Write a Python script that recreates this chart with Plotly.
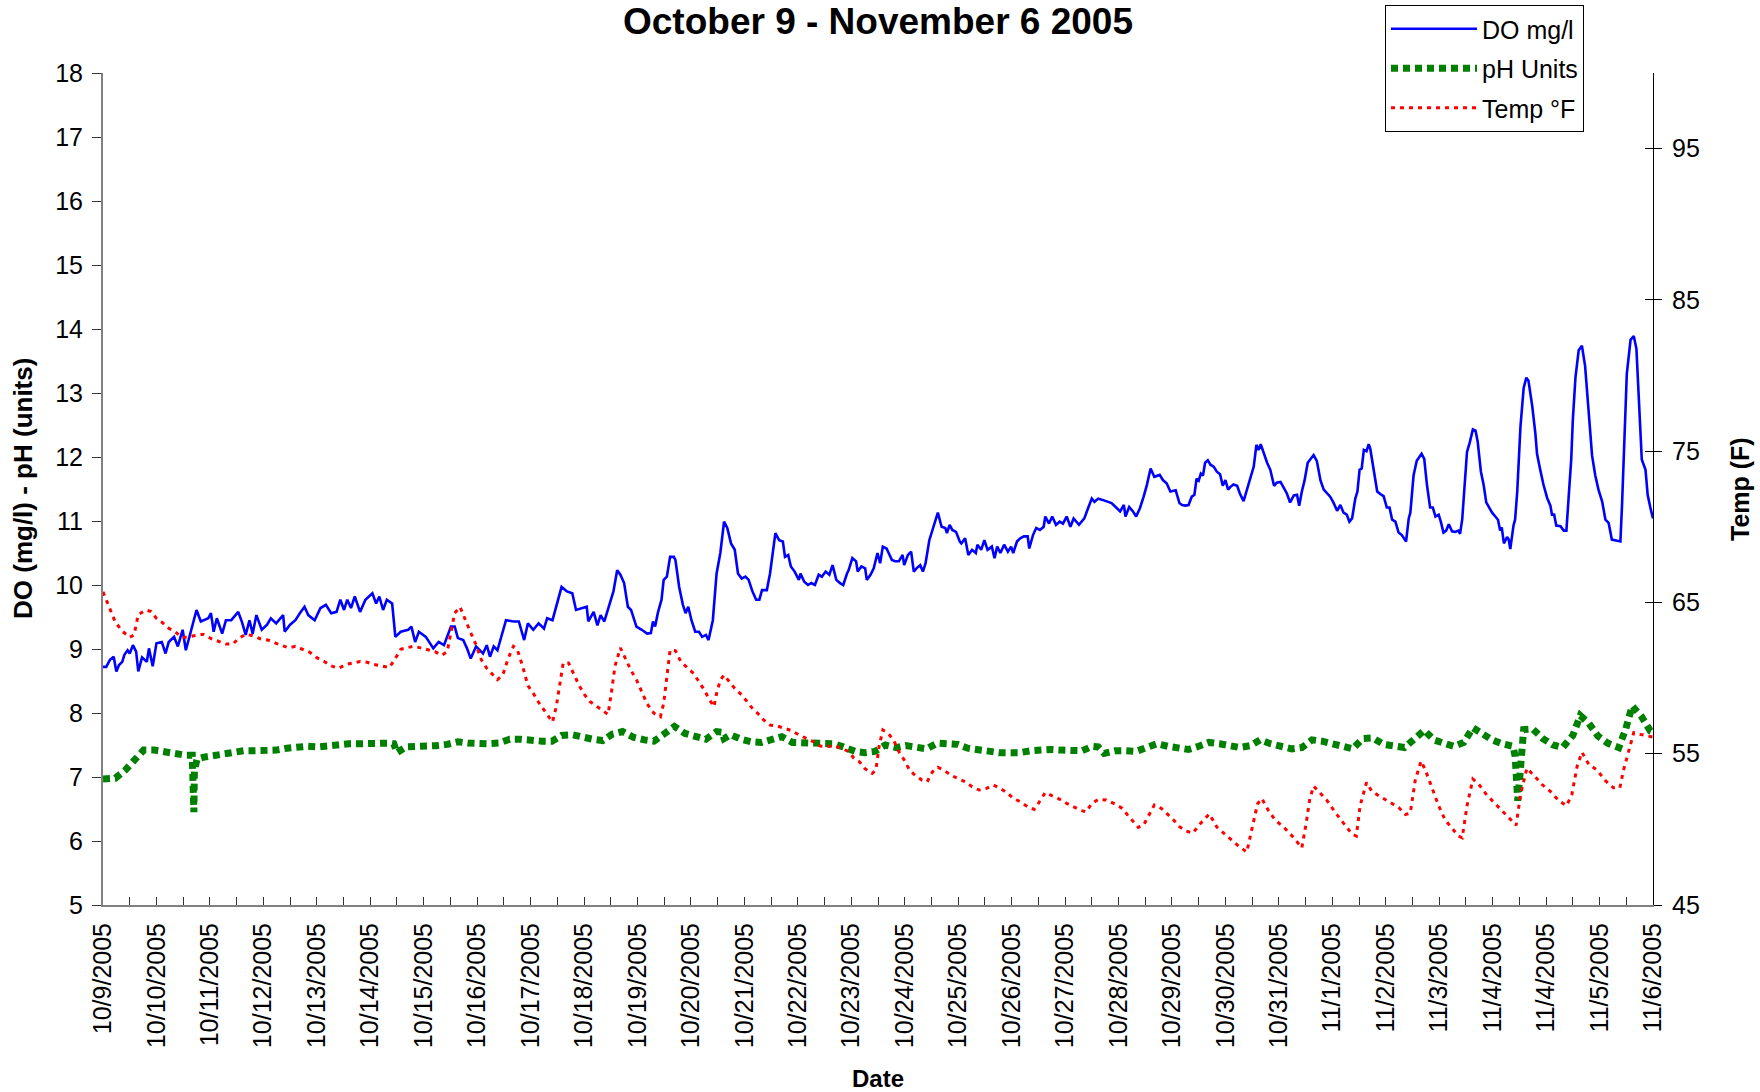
import plotly.graph_objects as go

# ---------------- data ----------------
date_labels = ["10/9/2005", "10/10/2005", "10/11/2005", "10/12/2005", "10/13/2005",
               "10/14/2005", "10/15/2005", "10/16/2005", "10/17/2005", "10/18/2005",
               "10/19/2005", "10/20/2005", "10/21/2005", "10/22/2005", "10/23/2005",
               "10/24/2005", "10/25/2005", "10/26/2005", "10/27/2005", "10/28/2005",
               "10/29/2005", "10/30/2005", "10/31/2005", "11/1/2005", "11/2/2005",
               "11/3/2005", "11/4/2005", "11/4/2005", "11/5/2005", "11/6/2005"]

# time in category-label units (0 = first label, 29 = last label)
do_time = [0.00, 0.06, 0.13, 0.20, 0.25, 0.30, 0.36, 0.40, 0.46, 0.50, 0.56, 0.62, 0.66, 0.73, 0.82, 0.86, 0.93,
           1.00, 1.10, 1.17, 1.23, 1.33, 1.40, 1.49, 1.55, 1.62, 1.75, 1.83, 1.97,
           2.02, 2.07, 2.13, 2.23, 2.30, 2.40, 2.53, 2.60, 2.67, 2.74, 2.80, 2.87, 2.97,
           3.07, 3.14, 3.24, 3.37, 3.40, 3.50, 3.60, 3.70, 3.77, 3.84, 3.96,
           4.07, 4.17, 4.27, 4.37, 4.44, 4.51, 4.57, 4.64, 4.71, 4.81, 4.91,
           5.04, 5.11, 5.17, 5.24, 5.31, 5.41, 5.47, 5.57, 5.71, 5.77, 5.84, 5.91,
           6.04, 6.18, 6.28, 6.38, 6.51, 6.58, 6.64, 6.74, 6.81, 6.88, 6.98,
           7.11, 7.18, 7.24, 7.31, 7.38, 7.44, 7.54, 7.68, 7.78, 7.88, 7.95,
           8.05, 8.15, 8.25, 8.31, 8.41, 8.51, 8.58, 8.68, 8.78, 8.85, 8.95,
           9.05, 9.08, 9.18, 9.25, 9.31, 9.38, 9.45, 9.55, 9.62, 9.68, 9.75, 9.82, 9.88, 9.98,
           10.08, 10.18, 10.25, 10.29, 10.33, 10.38, 10.45, 10.49, 10.55, 10.61, 10.68, 10.71, 10.78, 10.85, 10.90, 10.95,
           11.01, 11.08, 11.15, 11.21, 11.28, 11.33, 11.41, 11.48, 11.55, 11.62, 11.68, 11.75, 11.82, 11.88, 11.95,
           12.02, 12.08, 12.15, 12.22, 12.28, 12.33, 12.42, 12.48, 12.58, 12.65, 12.72, 12.76, 12.82, 12.87, 12.94,
           13.02, 13.05, 13.12, 13.19, 13.25, 13.32, 13.39, 13.45, 13.52, 13.59, 13.65, 13.72, 13.79, 13.85, 13.92, 13.95,
           14.02, 14.09, 14.12, 14.19, 14.26, 14.29, 14.36, 14.42, 14.49, 14.54, 14.59, 14.66, 14.76, 14.82, 14.89, 14.96, 14.99,
           15.06, 15.12, 15.17, 15.22, 15.29, 15.34, 15.39, 15.46, 15.52, 15.59, 15.62, 15.69, 15.76, 15.79, 15.84, 15.89, 15.96,
           16.03, 16.06, 16.13, 16.19, 16.26, 16.33, 16.36, 16.43, 16.49, 16.55, 16.63, 16.68, 16.73, 16.79, 16.86, 16.93, 16.99,
           17.03, 17.10, 17.16, 17.23, 17.30, 17.33, 17.40, 17.46, 17.53, 17.60, 17.63, 17.70, 17.76, 17.83, 17.90, 17.96,
           18.03, 18.10, 18.16, 18.26, 18.36, 18.43, 18.50, 18.55, 18.62, 18.70, 18.80, 18.87, 18.97,
           19.03, 19.10, 19.13, 19.20, 19.27, 19.33, 19.40, 19.47, 19.53, 19.60, 19.67, 19.77, 19.83, 19.90, 19.97,
           20.07, 20.14, 20.19, 20.25, 20.31, 20.37, 20.42, 20.46, 20.50, 20.54, 20.58, 20.62, 20.67, 20.72, 20.78, 20.84, 20.90, 20.95,
           21.00, 21.05, 21.09, 21.15, 21.22, 21.27, 21.34, 21.40, 21.47, 21.53, 21.58, 21.62, 21.66, 21.71, 21.78, 21.84, 21.91, 21.96,
           22.03, 22.09, 22.15, 22.21, 22.28, 22.34, 22.38, 22.43, 22.48, 22.54, 22.59, 22.65, 22.71, 22.78, 22.84, 22.90, 22.96,
           23.02, 23.09, 23.15, 23.21, 23.27, 23.32, 23.37, 23.43, 23.47, 23.51, 23.55, 23.59, 23.64, 23.68, 23.71, 23.77, 23.84, 23.90, 23.96,
           24.02, 24.07, 24.12, 24.18, 24.24, 24.30, 24.38, 24.43, 24.46, 24.52, 24.58, 24.67, 24.72, 24.77, 24.83, 24.88, 24.93, 24.99,
           25.03, 25.08, 25.13, 25.18, 25.24, 25.30, 25.36, 25.39, 25.43, 25.47, 25.52, 25.57, 25.63, 25.68, 25.72, 25.78, 25.83, 25.88, 25.92, 25.99,
           26.05, 26.10, 26.14, 26.17, 26.21, 26.27, 26.30, 26.33, 26.39, 26.42, 26.46, 26.49, 26.52, 26.58, 26.63, 26.67, 26.74, 26.80, 26.83, 26.89, 26.95,
           27.02, 27.08, 27.11, 27.15, 27.19, 27.27, 27.33, 27.38, 27.42, 27.47, 27.50, 27.55, 27.61, 27.67, 27.73, 27.80, 27.86, 27.92, 27.98,
           28.05, 28.11, 28.17, 28.23, 28.33, 28.39, 28.42, 28.45, 28.51, 28.58, 28.64, 28.69, 28.73, 28.79, 28.86, 28.90, 28.95, 29.00]
do_value = [8.72, 8.72, 8.83, 8.88, 8.65, 8.75, 8.80, 8.91, 8.98, 8.93, 9.06, 8.96, 8.65, 8.87, 8.80, 9.01, 8.73,
            9.09, 9.11, 8.93, 9.11, 9.19, 9.04, 9.30, 8.98, 9.19, 9.61, 9.43, 9.48,
            9.56, 9.27, 9.48, 9.24, 9.45, 9.45, 9.58, 9.42, 9.22, 9.45, 9.24, 9.53, 9.30,
            9.38, 9.48, 9.40, 9.53, 9.27, 9.38, 9.45, 9.58, 9.66, 9.53, 9.45,
            9.64, 9.69, 9.56, 9.58, 9.77, 9.61, 9.77, 9.64, 9.82, 9.58, 9.77,
            9.87, 9.71, 9.82, 9.61, 9.77, 9.71, 9.19, 9.27, 9.30, 9.35, 9.11, 9.27,
            9.19, 9.01, 9.11, 9.06, 9.35, 9.35, 9.17, 9.14, 9.01, 8.85, 9.04,
            8.93, 9.06, 8.88, 9.04, 8.98, 9.17, 9.45, 9.43, 9.43, 9.14, 9.40,
            9.30, 9.40, 9.32, 9.48, 9.45, 9.77, 9.97, 9.90, 9.87, 9.61, 9.64,
            9.66, 9.43, 9.58, 9.37, 9.53, 9.43, 9.64, 9.90, 10.23, 10.16, 10.03, 9.66, 9.61, 9.35,
            9.30, 9.24, 9.25, 9.43, 9.35, 9.56, 9.77, 10.08, 10.13, 10.44, 10.44, 10.39, 9.97, 9.69, 9.56, 9.66,
            9.45, 9.27, 9.27, 9.19, 9.22, 9.14, 9.45, 10.18, 10.50, 10.99, 10.89, 10.65, 10.55, 10.18, 10.10,
            10.13, 10.08, 9.90, 9.77, 9.77, 9.92, 9.92, 10.18, 10.81, 10.70, 10.68, 10.44, 10.47, 10.29, 10.21,
            10.08, 10.18, 10.05, 10.00, 10.03, 10.00, 10.16, 10.13, 10.21, 10.16, 10.31, 10.08, 10.03, 10.00, 10.18, 10.23,
            10.42, 10.37, 10.21, 10.29, 10.26, 10.08, 10.16, 10.26, 10.50, 10.34, 10.60, 10.57, 10.39, 10.37, 10.37, 10.47, 10.31,
            10.47, 10.52, 10.21, 10.26, 10.31, 10.21, 10.34, 10.70, 10.86, 11.04, 11.13, 10.91, 10.89, 10.81, 10.94, 10.86, 10.83,
            10.68, 10.65, 10.73, 10.47, 10.55, 10.50, 10.63, 10.55, 10.70, 10.55, 10.60, 10.42, 10.60, 10.50, 10.63, 10.52, 10.60,
            10.50, 10.68, 10.73, 10.76, 10.76, 10.57, 10.78, 10.89, 10.86, 10.91, 11.07, 10.96, 11.07, 10.94, 10.99, 10.96,
            11.07, 10.91, 11.04, 10.94, 11.04, 11.20, 11.35, 11.30, 11.35, 11.33, 11.30, 11.28, 11.20,
            11.15, 11.25, 11.07, 11.22, 11.15, 11.07, 11.20, 11.38, 11.56, 11.82, 11.69, 11.72, 11.64, 11.59, 11.46,
            11.48, 11.28, 11.25, 11.24, 11.25, 11.38, 11.41, 11.66, 11.63, 11.74, 11.71, 11.91, 11.95, 11.88, 11.85, 11.77, 11.73, 11.55,
            11.64, 11.49, 11.53, 11.57, 11.55, 11.43, 11.31, 11.49, 11.66, 11.85, 12.19, 12.11, 12.20, 12.07, 11.91, 11.80, 11.55, 11.60,
            11.61, 11.52, 11.43, 11.29, 11.40, 11.41, 11.24, 11.46, 11.63, 11.91, 11.96, 12.03, 11.94, 11.63, 11.49, 11.43, 11.38,
            11.29, 11.16, 11.25, 11.13, 11.10, 10.99, 11.04, 11.35, 11.46, 11.80, 11.82, 12.11, 12.09, 12.20, 12.13, 11.80, 11.46, 11.42, 11.39,
            11.21, 11.21, 11.02, 10.99, 10.82, 10.78, 10.68, 11.04, 11.13, 11.71, 11.94, 12.05, 11.97, 11.57, 11.21, 11.21, 11.07, 11.10,
            10.99, 10.82, 10.85, 10.95, 10.84, 10.83, 10.85, 10.80, 11.02, 11.49, 12.08, 12.22, 12.43, 12.41, 12.24, 11.77, 11.57, 11.29, 11.23, 11.13,
            11.07, 11.02, 10.85, 10.90, 10.65, 10.75, 10.71, 10.56, 10.93, 11.02, 11.46, 11.96, 12.47, 13.08, 13.24, 13.19, 12.80, 12.36, 12.05, 11.80, 11.57,
            11.36, 11.24, 11.10, 11.10, 10.93, 10.92, 10.85, 10.85, 11.35, 11.96, 12.58, 13.25, 13.67, 13.74, 13.42, 12.63, 12.02, 11.71, 11.49,
            11.30, 11.02, 10.97, 10.71, 10.69, 10.68, 11.24, 11.96, 13.30, 13.83, 13.89, 13.69, 12.91, 11.96, 11.80, 11.41, 11.21, 11.04]

ph_time = [0.00, 0.06, 0.23, 0.42, 0.60, 0.76, 0.96, 1.16, 1.35, 1.55, 1.67, 1.69, 1.70, 1.71, 1.76, 1.89,
           2.07, 2.27, 2.47, 2.63, 2.83, 3.04, 3.24, 3.44, 3.62, 3.82, 4.02, 4.20, 4.39, 4.60, 4.79, 4.97,
           5.17, 5.36, 5.44, 5.50, 5.67, 5.86, 6.06, 6.24, 6.44, 6.64, 6.83, 7.01, 7.21, 7.41, 7.61, 7.81,
           8.01, 8.21, 8.40, 8.58, 8.78, 8.97, 9.16, 9.35, 9.53, 9.72, 9.93, 10.13, 10.31, 10.51, 10.69, 10.89,
           11.09, 11.28, 11.48, 11.58, 11.62, 11.74, 11.94, 12.13, 12.32, 12.52, 12.70, 12.90, 13.09, 13.29, 13.47, 13.67, 13.85,
           14.07, 14.25, 14.44, 14.64, 14.84, 15.02, 15.22, 15.41, 15.61, 15.80, 15.99, 16.18, 16.38, 16.57, 16.77, 16.96,
           17.15, 17.36, 17.55, 17.74, 17.94, 18.13, 18.32, 18.51, 18.62, 18.73, 18.93, 19.13, 19.33, 19.52, 19.72, 19.92,
           20.11, 20.31, 20.50, 20.69, 20.89, 21.09, 21.27, 21.47, 21.65, 21.84, 22.06, 22.24, 22.43, 22.62, 22.81,
           23.01, 23.20, 23.38, 23.57, 23.76, 23.96, 24.15, 24.35, 24.53, 24.72, 24.90, 25.08, 25.27, 25.46, 25.63, 25.80, 25.99,
           26.17, 26.38, 26.42, 26.44, 26.47, 26.58, 26.75, 26.94, 27.13, 27.31, 27.50, 27.64, 27.80, 27.97,
           28.15, 28.36, 28.49, 28.61, 28.78, 28.95, 29.00]
ph_value = [6.97, 6.97, 6.98, 7.11, 7.27, 7.42, 7.42, 7.39, 7.36, 7.34, 7.34, 7.05, 6.45, 7.10, 7.28, 7.31,
            7.34, 7.37, 7.39, 7.41, 7.41, 7.41, 7.42, 7.45, 7.47, 7.48, 7.47, 7.49, 7.51, 7.52, 7.52, 7.53,
            7.53, 7.53, 7.52, 7.38, 7.47, 7.47, 7.49, 7.49, 7.51, 7.55, 7.53, 7.52, 7.52, 7.53, 7.59, 7.59,
            7.57, 7.56, 7.56, 7.65, 7.66, 7.62, 7.59, 7.57, 7.67, 7.71, 7.62, 7.58, 7.56, 7.68, 7.79, 7.68,
            7.63, 7.59, 7.71, 7.70, 7.60, 7.66, 7.59, 7.55, 7.54, 7.59, 7.63, 7.54, 7.54, 7.52, 7.52, 7.52, 7.47,
            7.40, 7.38, 7.40, 7.50, 7.46, 7.49, 7.47, 7.44, 7.53, 7.53, 7.51, 7.45, 7.42, 7.41, 7.38, 7.38,
            7.38, 7.41, 7.43, 7.43, 7.42, 7.41, 7.41, 7.48, 7.47, 7.37, 7.41, 7.41, 7.40, 7.46, 7.52, 7.48,
            7.46, 7.43, 7.48, 7.54, 7.52, 7.49, 7.46, 7.49, 7.58, 7.52, 7.49, 7.44, 7.46, 7.58, 7.56,
            7.51, 7.46, 7.44, 7.60, 7.61, 7.51, 7.48, 7.46, 7.59, 7.73, 7.58, 7.52, 7.48, 7.54, 7.77, 7.68, 7.58,
            7.52, 7.48, 7.33, 6.97, 6.63, 7.74, 7.75, 7.60, 7.50, 7.46, 7.65, 7.96, 7.84, 7.64,
            7.53, 7.46, 7.75, 8.11, 7.95, 7.72, 7.70]

temp_time = [0.00, 0.10, 0.23, 0.36, 0.50, 0.58, 0.66, 0.80, 0.90, 1.00, 1.10, 1.23, 1.37, 1.47, 1.57, 1.70, 1.87,
             2.03, 2.17, 2.30, 2.43, 2.53, 2.67, 2.80, 2.94, 3.10, 3.24, 3.37, 3.47, 3.60, 3.74, 3.87,
             4.00, 4.14, 4.27, 4.41, 4.54, 4.67, 4.81, 4.94, 5.07, 5.21, 5.36, 5.47, 5.57, 5.67, 5.81, 5.94,
             6.07, 6.21, 6.34, 6.44, 6.51, 6.58, 6.68, 6.78, 6.88, 6.98, 7.08, 7.18, 7.28, 7.38, 7.48, 7.58, 7.68, 7.75, 7.85, 7.95,
             8.05, 8.15, 8.25, 8.35, 8.41, 8.48, 8.55, 8.61, 8.71, 8.81, 8.91, 9.01, 9.11, 9.25, 9.38, 9.45, 9.51, 9.58, 9.68, 9.78, 9.88, 9.98,
             10.08, 10.18, 10.31, 10.43, 10.49, 10.55, 10.61, 10.71, 10.81, 10.91, 11.05, 11.13, 11.25, 11.35, 11.43, 11.48, 11.55, 11.62,
             11.72, 11.82, 11.95, 12.05, 12.15, 12.25, 12.35, 12.48, 12.62, 12.75, 12.89, 13.02, 13.15, 13.29, 13.42, 13.55, 13.69, 13.82, 13.95,
             14.05, 14.15, 14.25, 14.39, 14.46, 14.52, 14.59, 14.69, 14.79, 14.89, 14.99, 15.09, 15.19, 15.32, 15.42, 15.52, 15.62, 15.73, 15.86, 15.99,
             16.13, 16.26, 16.39, 16.53, 16.66, 16.79, 16.93, 17.03, 17.16, 17.30, 17.42, 17.50, 17.63, 17.76, 17.90,
             18.03, 18.16, 18.30, 18.40, 18.50, 18.63, 18.77, 18.93, 19.07, 19.17, 19.27, 19.37, 19.47, 19.57, 19.67, 19.80, 19.90,
             20.03, 20.14, 20.25, 20.39, 20.53, 20.70, 20.84, 21.03, 21.22, 21.40, 21.50, 21.60, 21.68, 21.81, 21.93,
             22.09, 22.28, 22.43, 22.51, 22.58, 22.65, 22.74, 22.90, 23.06, 23.21, 23.37, 23.45, 23.52, 23.64, 23.74, 23.90,
             24.08, 24.24, 24.37, 24.46, 24.55, 24.66, 24.74, 24.86, 24.99, 25.11, 25.24, 25.36, 25.43, 25.52, 25.63, 25.74, 25.89,
             26.05, 26.21, 26.36, 26.44, 26.52, 26.64, 26.77, 26.92, 27.08, 27.23, 27.38, 27.48, 27.58, 27.67, 27.80, 27.95,
             28.11, 28.26, 28.38, 28.45, 28.54, 28.64, 28.76, 28.89, 29.00]
temp_value = [65.7, 64.8, 63.7, 63.1, 62.7, 62.85, 64.2, 64.5, 64.4, 63.95, 63.7, 63.3, 63.0, 62.7, 62.7, 62.8, 62.9,
              62.6, 62.4, 62.25, 62.25, 62.6, 62.9, 62.8, 62.6, 62.5, 62.3, 62.1, 62.0, 62.1, 61.9, 61.7,
              61.35, 61.1, 60.8, 60.65, 60.9, 61.0, 61.1, 61.05, 60.9, 60.8, 60.7, 61.3, 61.9, 62.0, 62.1, 62.0,
              61.9, 61.75, 61.5, 61.75, 63.0, 64.3, 64.7, 63.8, 63.0, 62.2, 61.2, 60.65, 60.3, 59.9, 60.2, 61.3, 62.1, 61.9, 60.8, 59.5,
              59.0, 58.4, 57.9, 57.45, 57.1, 58.1, 59.7, 61.0, 61.0, 60.2, 59.5, 58.9, 58.45, 58.1, 57.8, 57.6, 59.0, 60.8, 62.0, 61.2, 60.5, 59.9,
              59.1, 58.3, 57.67, 57.45, 58.33, 60.31, 61.86, 61.81, 61.09, 60.76, 60.31, 59.87, 59.21, 58.55, 58.11, 58.99, 59.87, 60.2,
              59.76, 59.32, 58.88, 58.44, 58.0, 57.67, 57.27, 56.9, 56.83, 56.68, 56.52, 56.24, 56.02, 55.8, 55.51, 55.47, 55.51, 55.36, 55.14,
              54.7, 54.48, 54.03, 53.7, 53.92, 55.47, 56.57, 56.35, 55.91, 55.14, 54.59, 53.92, 53.59, 53.26, 53.15, 53.81, 54.1, 53.92, 53.59, 53.37,
              53.15, 52.82, 52.6, 52.71, 52.93, 52.71, 52.38, 52.05, 51.83, 51.5, 51.32, 51.72, 52.43, 52.21, 51.99,
              51.72, 51.5, 51.24, 51.17, 51.72, 51.99, 51.94, 51.68, 51.39, 50.95, 50.51, 50.13, 50.29, 50.95, 51.61, 51.39, 51.06,
              50.62, 50.18, 49.91, 49.75, 50.38, 51.02, 50.15, 49.56, 48.97, 48.5, 50.15, 51.68, 52.04, 51.21, 50.62,
              50.15, 49.44, 48.78, 50.38, 52.04, 52.86, 52.51, 51.92, 51.09, 50.38, 49.68, 49.56, 51.56, 53.1, 52.51, 52.16,
              51.8, 51.45, 50.98, 51.09, 53.22, 54.52, 53.93, 52.75, 51.56, 50.62, 50.03, 49.56, 49.44, 51.56, 53.33, 52.98, 52.27,
              51.68, 51.09, 50.5, 50.27, 52.27, 54.04, 53.57, 52.98, 52.51, 51.92, 51.56, 52.27, 54.16, 55.1, 54.28, 53.93,
              53.22, 52.75, 52.75, 53.93, 55.1, 56.4, 56.28, 56.17, 56.1]

left_ticks = list(range(5, 19))
right_ticks = [45, 55, 65, 75, 85, 95]

# ---------------- figure ----------------
FONT = "Arial, Liberation Sans, sans-serif"
W, H = 1760, 1092
L, R, T, B = 103, 107, 73, 187
pw, ph = W - L - R, H - T - B

def px_x(p):
    return (p - L) / pw

def px_y(p):
    return (H - B - p) / ph

fig = go.Figure()
fig.add_trace(go.Scatter(x=do_time, y=do_value, mode="lines", name="DO mg/l",
                         line=dict(color="#0000FF", width=2.6), legendgroup="a"))
fig.add_trace(go.Scatter(x=ph_time, y=ph_value, mode="lines", name="pH Units",
                         line=dict(color="#008000", width=7, dash="7px,5px"), legendgroup="b"))
fig.add_trace(go.Scatter(x=temp_time, y=temp_value, mode="lines", name="Temp °F", yaxis="y2",
                         line=dict(color="#FF0000", width=3, dash="4px,5px"), legendgroup="c"))
fig.add_trace(go.Scatter(x=[], y=[], yaxis="y3", showlegend=False, hoverinfo="skip"))

half_vals = [i / 2 for i in range(0, 2 * (len(date_labels) - 1) + 1)]
half_text = [date_labels[int(v)] if v == int(v) else "" for v in half_vals]

tickfont = dict(family=FONT, size=25, color="black")

fig.update_layout(
    width=W, height=H,
    margin=dict(l=L, r=R, t=T, b=B, pad=0, autoexpand=False),
    paper_bgcolor="white", plot_bgcolor="white",
    font=dict(family=FONT, color="black"),
    showlegend=True,
    legend=dict(x=px_x(1385), y=px_y(5), xanchor="left", yanchor="top",
                bgcolor="white", bordercolor="black", borderwidth=1,
                font=dict(family=FONT, size=25, color="black"),
                itemwidth=86, tracegroupgap=4, traceorder="grouped"),
    xaxis=dict(range=[0, len(date_labels) - 1], tickmode="array", tickvals=half_vals, ticktext=half_text,
               tickangle=-90, ticks="inside", ticklen=8, tickcolor="#333333", tickwidth=1,
               showline=True, linecolor="#808080", linewidth=2, showgrid=False, zeroline=False,
               tickfont=tickfont, ticklabelstandoff=6),
    yaxis=dict(range=[5, 18], tickmode="array", tickvals=left_ticks, ticks="outside", ticklen=9,
               tickcolor="#333333", showline=True, linecolor="#808080", linewidth=2,
               showgrid=False, zeroline=False, tickfont=tickfont, ticklabelstandoff=4),
    yaxis2=dict(range=[45, 100], overlaying="y", side="right", anchor="x", tickmode="array",
                tickvals=right_ticks, ticks="outside", ticklen=8, tickcolor="black",
                showline=True, linecolor="black", linewidth=1, showgrid=False, zeroline=False,
                tickfont=tickfont, ticklabelstandoff=5),
    yaxis3=dict(range=[45, 100], overlaying="y", side="right", anchor="x", tickmode="array",
                tickvals=right_ticks, ticks="inside", ticklen=8, tickcolor="black",
                showline=False, showgrid=False, zeroline=False, showticklabels=False),
)

fig.add_annotation(text="<b>October 9 - November 6 2005</b>", xref="paper", yref="paper",
                   x=0.5, y=px_y(21), xanchor="center", yanchor="middle", showarrow=False,
                   font=dict(family=FONT, size=37, color="black"))
fig.add_annotation(text="<b>DO (mg/l) - pH (units)</b>", xref="paper", yref="paper",
                   x=px_x(23), y=px_y(489), xanchor="center", yanchor="middle", textangle=-90,
                   showarrow=False, font=dict(family=FONT, size=26, color="black"))
fig.add_annotation(text="<b>Temp (F)</b>", xref="paper", yref="paper",
                   x=px_x(1740), y=px_y(489), xanchor="center", yanchor="middle", textangle=-90,
                   showarrow=False, font=dict(family=FONT, size=25, color="black"))
fig.add_annotation(text="<b>Date</b>", xref="paper", yref="paper",
                   x=0.5, y=px_y(1078), xanchor="center", yanchor="middle",
                   showarrow=False, font=dict(family=FONT, size=24, color="black"))

fig.write_html("out.html", config={"displayModeBar": False},
               post_script="document.body.style.margin='0px';document.body.style.overflow='hidden';")
